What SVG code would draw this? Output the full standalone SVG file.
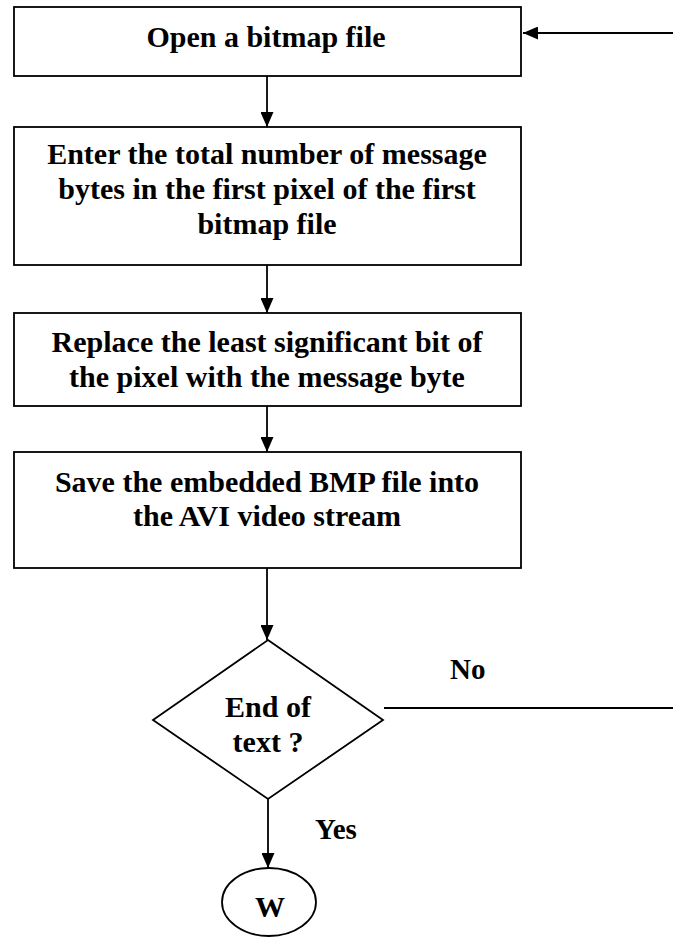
<svg xmlns="http://www.w3.org/2000/svg" width="673" height="938" viewBox="0 0 673 938">
<defs>
<style>
.box{fill:#fff;stroke:#000;stroke-width:1.8}
.ln{fill:none;stroke:#000;stroke-width:1.8}
.t{font-family:"Liberation Serif","Times New Roman",serif;font-weight:bold;font-size:30px;fill:#000;text-anchor:middle}
.lbl{font-family:"Liberation Serif","Times New Roman",serif;font-weight:bold;font-size:29px;fill:#000}
</style>
<marker id="ah" viewBox="0 0 15 13" refX="15" refY="6.5" markerWidth="15" markerHeight="13" markerUnits="userSpaceOnUse" orient="auto">
<path d="M0,0 L15,6.5 L0,13 Z" fill="#000"/>
</marker>
</defs>
<rect width="673" height="938" fill="#fff"/>
<g id="connectors">
<line class="ln" x1="673" y1="33" x2="523" y2="33" marker-end="url(#ah)"/>
<line class="ln" x1="267" y1="76" x2="267" y2="127" marker-end="url(#ah)"/>
<line class="ln" x1="267" y1="265" x2="267" y2="313" marker-end="url(#ah)"/>
<line class="ln" x1="267" y1="406" x2="267" y2="452" marker-end="url(#ah)"/>
<line class="ln" x1="267" y1="568" x2="267" y2="640" marker-end="url(#ah)"/>
<line class="ln" x1="384" y1="708" x2="673" y2="708"/>
<line class="ln" x1="268" y1="799" x2="268" y2="868" marker-end="url(#ah)"/>
<text class="lbl" x="450" y="679">No</text>
<text class="lbl" x="315" y="839">Yes</text>
</g>
<g id="open-bitmap">
<rect class="box" x="14" y="7" width="507" height="69"/>
<text class="t" x="266" y="47">Open a bitmap file</text>
</g>
<g id="enter-total">
<rect class="box" x="14" y="127" width="507" height="138"/>
<text class="t" x="267" y="164">Enter the total number of message</text>
<text class="t" x="267" y="199">bytes in the first pixel of the first</text>
<text class="t" x="267" y="234">bitmap file</text>
</g>
<g id="replace-lsb">
<rect class="box" x="14" y="313" width="507" height="93"/>
<text class="t" x="267" y="352">Replace the least significant bit of</text>
<text class="t" x="267" y="387">the pixel with the message byte</text>
</g>
<g id="save-bmp">
<rect class="box" x="14" y="452" width="507" height="116"/>
<text class="t" x="267" y="492">Save the embedded BMP file into</text>
<text class="t" x="267" y="526">the AVI video stream</text>
</g>
<g id="end-of-text">
<polygon class="box" points="268,640 383,720 268,799 153,720"/>
<text class="t" x="268" y="717">End of</text>
<text class="t" x="268" y="752">text ?</text>
</g>
<g id="w">
<ellipse class="box" cx="269" cy="902" rx="47" ry="34"/>
<text class="t" x="270" y="917">W</text>
</g>
</svg>
